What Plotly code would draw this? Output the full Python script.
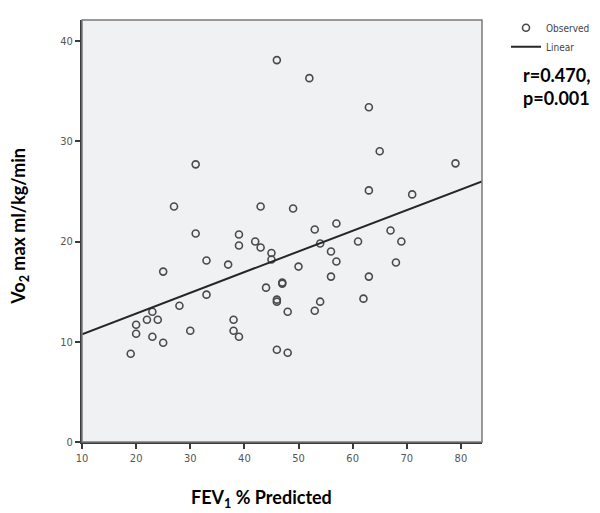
import numpy as np
import plotly.graph_objects as go

# FEV1 % predicted (x) and VO2 max ml/kg/min (y)
fev1_pct = [19, 20, 20, 22, 23, 23, 24, 25, 25, 27, 28, 30, 31, 31, 33, 33, 37, 38, 38,
            39, 39, 39, 42, 43, 43, 44, 45, 45, 46, 46, 46, 46, 47, 47, 48, 48, 49, 50,
            52, 53, 53, 54, 54, 56, 56, 57, 57, 61, 62, 63, 63, 63, 65, 67, 68, 69, 71, 79]
vo2_max = [8.8, 11.7, 10.8, 12.2, 13.0, 10.5, 12.2, 17.0, 9.9, 23.5, 13.6, 11.1, 27.7, 20.8,
           18.1, 14.7, 17.7, 12.2, 11.1, 20.7, 19.6, 10.5, 20.0, 23.5, 19.4, 15.4, 18.85, 18.2,
           38.1, 14.2, 14.0, 9.2, 15.9, 15.8, 13.0, 8.9, 23.3, 17.5, 36.3, 21.2, 13.1, 19.8,
           14.0, 19.0, 16.5, 21.8, 18.0, 20.0, 14.3, 33.4, 25.1, 16.5, 29.0, 21.1, 17.9, 20.0,
           24.7, 27.8]

# linear fit as drawn in the picture
fit_intercept = 8.69
fit_slope = 0.2064

x_ticks = [10, 20, 30, 40, 50, 60, 70, 80]
y_ticks = [0, 10, 20, 30, 40]
x_range = [10, 83.9]
y_range = [0, 42.1]

stats_text = "r=0.470,<br>p=0.001"

line_x = np.array(x_range)
line_y = fit_intercept + fit_slope * line_x

tick_font = dict(family="Liberation Sans Narrow, DejaVu Sans Condensed, Arial Narrow, sans-serif",
                 size=11, color="#555555")
title_font = dict(family="Lato", size=18, color="black", weight="bold")

fig = go.Figure()
fig.add_trace(go.Scatter(
    x=fev1_pct, y=vo2_max, mode="markers", name="Observed",
    marker=dict(symbol="circle-open", size=7, color="#4a4a4a", line=dict(width=1.6, color="#4a4a4a")),
))
fig.add_trace(go.Scatter(
    x=line_x, y=line_y, mode="lines", name="Linear",
    line=dict(color="#262626", width=2),
))

# the page body has an 8px margin, so the figure is 8px smaller and offsets shift by 8
fig.update_layout(
    width=592, height=505,
    margin=dict(l=74, r=105, t=5, b=71),
    paper_bgcolor="white",
    plot_bgcolor="#f0f1f2",
    showlegend=True,
    legend=dict(x=1.06, y=1.016, xanchor="left", yanchor="top",
                font=dict(family="Liberation Sans Narrow, DejaVu Sans Condensed, Arial Narrow, sans-serif",
                          size=10, color="#444444"),
                itemwidth=30, tracegroupgap=0, bgcolor="rgba(0,0,0,0)"),
    xaxis=dict(range=x_range, tickvals=x_ticks, showgrid=False, zeroline=False,
               showline=True, linecolor="#3a3a3a", linewidth=2,
               ticks="outside", ticklen=5, tickwidth=1.5, tickcolor="#3a3a3a",
               tickfont=tick_font),
    yaxis=dict(range=y_range, tickvals=y_ticks, showgrid=False, zeroline=False,
               showline=True, linecolor="#3a3a3a", linewidth=2,
               ticks="outside", ticklen=5, tickwidth=1.5, tickcolor="#3a3a3a",
               tickfont=tick_font),
    shapes=[dict(type="rect", xref="paper", yref="paper", x0=0, y0=0, x1=1, y1=1,
                 line=dict(color="#7a7a7a", width=1.5), layer="above")],
    annotations=[
        dict(text="Vo<sub>2</sub> max ml/kg/min", xref="paper", yref="paper",
             x=-0.155, y=0.51, xanchor="center", yanchor="middle", textangle=-90,
             showarrow=False, font=title_font),
        dict(text="FEV<sub>1</sub> % Predicted", xref="paper", yref="paper",
             x=0.448, y=-0.135, xanchor="center", yanchor="middle",
             showarrow=False, font=title_font),
        dict(text=stats_text, xref="paper", yref="paper",
             x=1.098, y=0.9, xanchor="left", yanchor="top", align="left",
             showarrow=False, font=title_font),
    ],
)

fig.write_html("out.html")
